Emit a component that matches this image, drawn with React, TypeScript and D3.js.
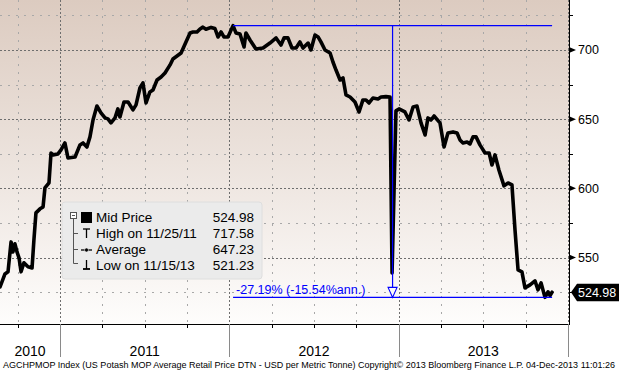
import React from "react";
import * as d3 from "d3";

const W = 619;
const H = 373;

// decimal-year time stamps and Mid Price values
const times = [
  2010.646, 2010.675, 2010.693, 2010.711, 2010.722, 2010.734, 2010.746, 2010.758, 2010.77, 2010.787,
  2010.811, 2010.835, 2010.846, 2010.858, 2010.882, 2010.9, 2010.911, 2010.935, 2010.947, 2010.959,
  2010.988, 2011.006, 2011.029, 2011.047, 2011.089, 2011.118, 2011.136, 2011.159, 2011.177, 2011.195,
  2011.218, 2011.242, 2011.266, 2011.283, 2011.301, 2011.325, 2011.342, 2011.354, 2011.378, 2011.402,
  2011.431, 2011.449, 2011.472, 2011.49, 2011.508, 2011.531, 2011.549, 2011.573, 2011.597, 2011.62,
  2011.65, 2011.667, 2011.715, 2011.744, 2011.768, 2011.785, 2011.809, 2011.827, 2011.844, 2011.862,
  2011.892, 2011.915, 2011.933, 2011.951, 2011.968, 2011.992, 2012.022, 2012.039, 2012.063, 2012.087,
  2012.098, 2012.122, 2012.157, 2012.199, 2012.24, 2012.276, 2012.305, 2012.323, 2012.346, 2012.37,
  2012.394, 2012.417, 2012.435, 2012.465, 2012.482, 2012.506, 2012.524, 2012.541, 2012.565, 2012.595,
  2012.612, 2012.63, 2012.654, 2012.671, 2012.689, 2012.713, 2012.742, 2012.766, 2012.789, 2012.807,
  2012.825, 2012.848, 2012.878, 2012.896, 2012.925, 2012.949, 2012.961, 2012.984, 2013.002, 2013.037,
  2013.061, 2013.085, 2013.108, 2013.132, 2013.156, 2013.173, 2013.191, 2013.209, 2013.244, 2013.268,
  2013.291, 2013.321, 2013.345, 2013.362, 2013.38, 2013.404, 2013.421, 2013.439, 2013.457, 2013.48,
  2013.51, 2013.534, 2013.551, 2013.569, 2013.592, 2013.622, 2013.646, 2013.669, 2013.687, 2013.705,
  2013.728, 2013.746, 2013.776, 2013.805, 2013.823, 2013.841, 2013.864, 2013.882, 2013.894, 2013.906,
];

const prices = [
  528.8, 538.2, 539.7, 561.3, 554.1, 559.9, 554.1, 549.8, 539.7, 546.2,
  543.3, 542.5, 562.8, 582.3, 585.2, 586.6, 600.3, 603.9, 625.6, 624.2,
  624.9, 627.8, 632.8, 622.0, 622.7, 631.4, 632.8, 629.9, 637.2, 649.4,
  659.5, 654.5, 650.9, 650.2, 647.3, 650.9, 657.4, 651.6, 662.4, 662.4,
  656.7, 660.3, 672.5, 676.2, 661.7, 669.7, 671.1, 678.3, 680.5, 683.4,
  689.2, 693.5, 697.8, 705.8, 712.3, 713.0, 713.0, 715.2, 716.5, 715.0,
  716.3, 715.5, 709.4, 713.0, 709.4, 709.4, 717.58, 712.3, 711.5, 702.2,
  712.3, 707.2, 700.7, 701.4, 705.0, 708.7, 703.6, 708.7, 708.7, 701.4,
  701.4, 705.8, 701.4, 705.0, 700.0, 710.8, 709.4, 705.8, 700.0, 697.8,
  691.3, 685.5, 678.3, 679.8, 667.5, 666.0, 662.4, 655.2, 663.9, 663.9,
  661.7, 665.3, 664.6, 666.0, 666.3, 666.0, 538.9, 656.0, 657.4, 655.2,
  649.4, 658.8, 659.5, 647.3, 638.6, 650.9, 649.4, 652.3, 647.3, 629.9,
  640.0, 640.8, 640.0, 635.0, 632.8, 633.5, 632.1, 637.2, 637.2, 631.4,
  625.6, 625.6, 616.9, 624.2, 613.3, 601.8, 603.9, 602.5, 570.0, 541.1,
  539.7, 528.1, 530.3, 533.2, 526.7, 531.7, 521.23, 525.2, 522.5, 524.98,
];

const years = [2010, 2011, 2012, 2013];
const yMajorTicks = [550, 600, 650, 700];
const yMinorTicks = [525, 575, 625, 675, 725];
const legendLabels = ["Mid Price", "High on 11/25/11", "Average", "Low on 11/15/13"];
const legendValues = ["524.98", "717.58", "647.23", "521.23"];
const lastPriceLabel = "524.98";
const changeLabel = "-27.19% (-15.54%ann.)";
const footerText =
  "AGCHPMOP Index (US Potash MOP Average Retail Price DTN - USD per Metric Tonne)  Copyright\u00a9 2013 Bloomberg Finance L.P.  04-Dec-2013 11:01:26";

const FONT = "'Liberation Sans', Arial, sans-serif";
const BLUE = "#0000ff";

export default function App() {
  const plotR = 569;
  const plotB = 324;
  const x = d3.scaleLinear().domain([2010.6457, 2014]).range([0, 568]);
  const y = d3.scaleLinear().domain([502, 736.1]).range([plotB, 0]);

  const data = times.map((t, i) => ({ t, v: prices[i] }));
  const line = d3
    .line<{ t: number; v: number }>()
    .x((d) => x(d.t))
    .y((d) => y(d.v));

  const hiIdx = d3.maxIndex(prices);
  const loIdx = d3.minIndex(prices);
  const last = data[data.length - 1];
  const hx = x(times[hiIdx]);
  const lx = x(last.t);
  const hy = y(prices[hiIdx]);
  const ly = y(prices[loIdx]);
  const mx = (hx + lx) / 2;

  const quarterTicks: number[] = [];
  for (let yr = 2010; yr <= 2014; yr++) {
    for (let q = 0; q < 4; q++) {
      const v = yr + q / 4;
      if (v >= x.domain()[0] && v <= 2014) quarterTicks.push(v);
    }
  }
  const gridY = d3.range(525, 736, 25);

  const legendX = 62;
  const legendY = 202;
  const rowY = (i: number) => legendY + 20 + i * 16;

  const footerScale = 0.88;

  return (
    <svg
      width={W}
      height={H}
      style={{ position: "fixed", left: 0, top: 0, background: "#fff" }}
      fontFamily={FONT}
    >
      <defs>
        <linearGradient id="bg" x1="0" y1="0" x2="0" y2="1">
          <stop offset="0" stopColor="#dccbc0" />
          <stop offset="0.5" stopColor="#ece3dd" />
          <stop offset="1" stopColor="#fefdfc" />
        </linearGradient>
      </defs>
      <rect x={0} y={0} width={W} height={H} fill="#fff" />
      <rect x={0} y={0} width={plotR} height={plotB} fill="url(#bg)" />

      {/* horizontal grid */}
      {gridY.map((g) => {
        const major = g % 50 === 0;
        return (
          <line
            key={"gy" + g}
            x1={0}
            x2={plotR}
            y1={Math.round(y(g)) + 0.5}
            y2={Math.round(y(g)) + 0.5}
            stroke={major ? "#6e6e6e" : "#a8a8a8"}
            strokeWidth={1}
            strokeDasharray={major ? "2,2" : "2,6"}
          />
        );
      })}
      {/* vertical grid */}
      {quarterTicks.map((q) => {
        const major = Number.isInteger(q);
        return (
          <line
            key={"gx" + q}
            x1={Math.round(x(q)) + 0.5}
            x2={Math.round(x(q)) + 0.5}
            y1={0}
            y2={plotB}
            stroke={major ? "#6e6e6e" : "#a8a8a8"}
            strokeWidth={1}
            strokeDasharray={major ? "2,2" : "2,6"}
          />
        );
      })}

      {/* price line */}
      <path d={line(data) || ""} fill="none" stroke="#000" strokeWidth={3.6} strokeLinejoin="round" strokeLinecap="round" />

      {/* high/low annotation */}
      <line x1={hx} x2={lx} y1={hy} y2={hy} stroke={BLUE} strokeWidth={1.3} />
      <line x1={hx} x2={lx} y1={ly} y2={ly} stroke={BLUE} strokeWidth={1.3} />
      <line x1={mx} x2={mx} y1={hy} y2={ly - 10} stroke={BLUE} strokeWidth={1.2} />
      <path
        d={`M${mx - 4.5},${ly - 10}L${mx + 4.5},${ly - 10}L${mx},${ly}Z`}
        fill="#fcfbfa"
        stroke={BLUE}
        strokeWidth={1.1}
      />
      <text x={hx + 3} y={ly - 3} fontSize={12.5} fill={BLUE}>
        {changeLabel}
      </text>

      {/* legend */}
      <rect x={legendX} y={legendY} width={200} height={77} rx={3} fill="#ebebeb" stroke="#dedede" />
      <g stroke="#555" strokeWidth={1} fill="none">
        <rect x={70.5} y={212.5} width={6} height={6} fill="#fff" />
        <line x1={72} x2={75} y1={215.5} y2={215.5} />
        <line x1={73.5} x2={73.5} y1={219} y2={263.5} />
        <line x1={73.5} x2={78} y1={233.5} y2={233.5} />
        <line x1={73.5} x2={78} y1={249.5} y2={249.5} />
        <line x1={73.5} x2={78} y1={263.5} y2={263.5} />
      </g>
      <rect x={81} y={212} width={11} height={11} fill="#000" />
      <g stroke="#000" strokeWidth={1.3}>
        <line x1={83} x2={90} y1={229} y2={229} />
        <line x1={86.5} x2={86.5} y1={229} y2={238} />
        <line x1={81} x2={92} y1={250} y2={250} />
        <line x1={86.5} x2={86.5} y1={260} y2={269} />
        <line x1={83} x2={90} y1={269} y2={269} strokeWidth={1.8} />
      </g>
      <circle cx={86.5} cy={250} r={2} fill="#000" stroke="#ebebeb" strokeWidth={0.6} />
      {legendLabels.map((l, i) => (
        <text key={"ll" + i} x={96} y={rowY(i)} fontSize={13.5} fill="#000">
          {l}
        </text>
      ))}
      {legendValues.map((v, i) => (
        <text key={"lv" + i} x={254} y={rowY(i)} fontSize={13.5} fill="#000" textAnchor="end">
          {v}
        </text>
      ))}

      {/* axes */}
      <line x1={0} x2={plotR} y1={plotB + 0.5} y2={plotB + 0.5} stroke="#000" strokeWidth={1} />
      <line x1={plotR + 0.5} x2={plotR + 0.5} y1={0} y2={plotB + 1} stroke="#000" strokeWidth={1} />

      {yMajorTicks.map((t) => (
        <g key={"yt" + t}>
          <path d={`M${plotR},${y(t) - 3}L${plotR + 7},${y(t)}L${plotR},${y(t) + 3}Z`} fill="#000" />
          <text x={578} y={y(t) + 4.5} fontSize={12.5} fill="#000">
            {t}
          </text>
        </g>
      ))}
      {yMinorTicks.map((t) => (
        <line
          key={"ym" + t}
          x1={plotR}
          x2={plotR + 4}
          y1={Math.round(y(t)) + 0.5}
          y2={Math.round(y(t)) + 0.5}
          stroke="#000"
        />
      ))}

      {/* last price tag */}
      <path
        d={`M${plotR + 2},${y(last.v)}L${plotR + 8},${y(last.v) - 8.5}L${W},${y(last.v) - 8.5}L${W},${y(last.v) + 9}L${plotR + 8},${y(last.v) + 9}Z`}
        fill="#000"
      />
      <text x={578} y={y(last.v) + 4.5} fontSize={12.5} fill="#fff">
        {lastPriceLabel}
      </text>

      {/* x axis ticks */}
      {quarterTicks
        .filter((q) => !Number.isInteger(q))
        .map((q) => (
          <line
            key={"xt" + q}
            x1={Math.round(x(q)) + 0.5}
            x2={Math.round(x(q)) + 0.5}
            y1={plotB}
            y2={plotB + 4}
            stroke="#000"
          />
        ))}
      {[2011, 2012, 2013, 2014].map((yr) => (
        <line
          key={"ys" + yr}
          x1={Math.round(x(yr)) + 0.5}
          x2={Math.round(x(yr)) + 0.5}
          y1={plotB}
          y2={357}
          stroke="#8a8a8a"
        />
      ))}
      {years.map((yr) => {
        const a = Math.max(x.range()[0], x(yr));
        const b = x(yr + 1);
        return (
          <text key={"yl" + yr} x={(a + b) / 2} y={356} fontSize={14} textAnchor="middle" fill="#000">
            {yr}
          </text>
        );
      })}

      <g transform={`translate(3,367.5) scale(${footerScale},1)`}>
        <text
          x={0}
          y={0}
          fontSize={9.4}
          fill="#000"
          textLength={612 / footerScale}
          lengthAdjust="spacingAndGlyphs"
        >
          {footerText}
        </text>
      </g>
    </svg>
  );
}
